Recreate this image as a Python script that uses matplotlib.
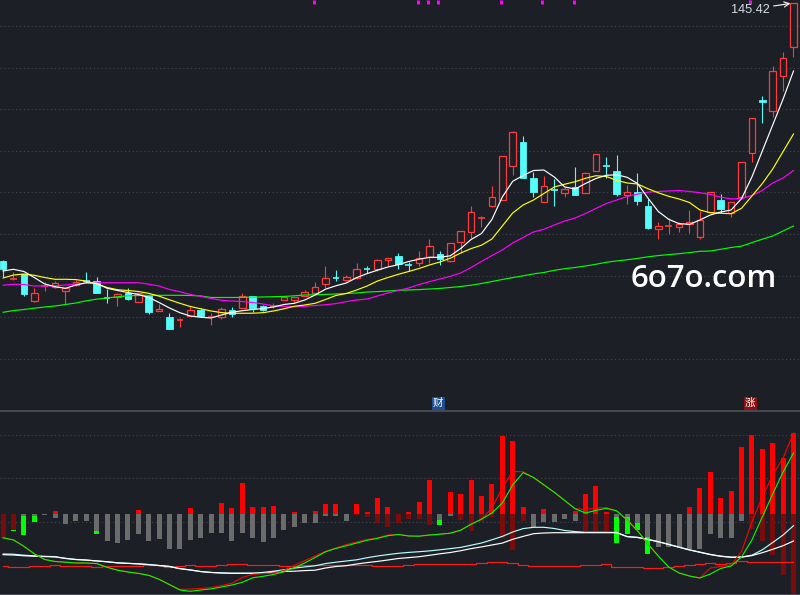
import matplotlib
matplotlib.use("Agg")
import matplotlib.pyplot as plt
from matplotlib.patches import Rectangle
import numpy as np

# ---------------- price panel data (candle index 0..76) ----------------
OPEN = [83.51, 79.06, 80.31, 73.97, 77.33, 77.19, 76.18, 77.74, 78.82, 78.70,
        74.78, 74.86, 75.82, 73.77, 75.10, 71.37, 70.05, 69.28, 70.36, 71.73,
        69.93, 69.98, 71.73, 72.21, 75.10, 72.69, 72.62, 74.06, 74.06, 75.10,
        75.89, 77.98, 79.42, 79.06, 79.54, 81.66, 81.47, 83.63, 84.78, 82.67,
        82.96, 84.40, 85.19, 83.44, 88.00, 90.36, 93.80, 96.80, 98.24, 106.23,
        112.12, 103.39, 97.62, 100.65, 99.93, 101.23, 99.93, 105.14, 106.47, 105.14,
        99.30, 100.02, 96.73, 91.27, 91.87, 91.61, 92.33, 89.21, 95.22, 98.17,
        94.98, 98.97, 109.40, 122.21, 119.57, 128.05, 134.88]
HIGH = [83.75, 80.94, 80.38, 76.95, 78.58, 78.70, 77.02, 78.94, 80.87, 79.66,
        76.78, 75.82, 77.02, 76.06, 75.22, 73.17, 70.94, 69.81, 72.45, 72.09,
        70.94, 72.52, 72.45, 75.82, 75.10, 72.93, 73.41, 75.10, 74.86, 76.54,
        78.39, 82.31, 81.35, 80.14, 82.96, 82.31, 83.92, 84.23, 85.50, 83.34,
        85.99, 88.80, 85.91, 87.76, 90.72, 96.73, 94.33, 101.54, 108.75, 114.76,
        113.56, 104.98, 103.94, 103.15, 101.37, 106.18, 104.98, 109.16, 108.51, 108.99,
        101.78, 104.59, 98.34, 92.96, 93.77, 92.96, 95.77, 95.60, 100.17, 99.54,
        97.69, 107.24, 117.81, 123.17, 130.38, 133.82, 145.42]
LOW = [79.66, 79.06, 75.17, 73.73, 76.30, 77.02, 73.17, 77.50, 78.46, 75.89,
       73.49, 72.69, 74.13, 73.77, 70.65, 71.37, 67.16, 67.57, 70.36, 69.98,
       68.12, 69.49, 69.93, 72.09, 71.13, 71.49, 72.14, 74.06, 73.65, 75.10,
       75.58, 77.02, 78.70, 78.70, 79.30, 80.62, 81.18, 82.19, 81.66, 81.18,
       82.38, 82.96, 82.48, 83.27, 85.50, 89.04, 91.61, 96.42, 98.24, 104.30,
       103.53, 98.97, 97.62, 96.85, 98.97, 99.45, 99.93, 105.14, 103.39, 99.13,
       97.28, 97.04, 91.13, 88.73, 89.93, 90.41, 90.17, 88.87, 95.22, 94.98,
       94.01, 98.97, 107.38, 116.75, 118.20, 124.45, 132.48]
CLOSE = [81.47, 79.35, 75.65, 75.82, 77.43, 78.15, 77.02, 78.46, 78.70, 75.89,
         74.66, 75.58, 74.45, 75.74, 71.32, 71.90, 67.16, 69.37, 71.61, 70.29,
         70.05, 71.90, 70.70, 74.98, 72.09, 71.61, 72.74, 74.86, 74.86, 76.06,
         77.26, 79.35, 79.30, 79.73, 81.51, 81.54, 83.75, 84.23, 82.72, 82.55,
         84.16, 87.12, 84.06, 87.76, 90.65, 95.22, 93.92, 98.89, 108.75, 114.52,
         103.53, 100.17, 101.54, 100.50, 100.75, 99.45, 104.66, 109.16, 106.35, 99.69,
         100.10, 98.00, 91.44, 91.92, 91.97, 92.33, 92.96, 93.37, 100.17, 96.01,
         97.69, 107.24, 117.81, 121.66, 129.18, 132.24, 145.42]

MA5 = [81.11, 81.51, 80.99, 79.54, 77.98, 77.33, 76.95, 77.74, 78.29, 78.15,
       76.95, 76.42, 75.94, 75.46, 74.74, 73.53, 72.21, 71.08, 70.29, 69.98,
       69.81, 70.53, 71.18, 71.56, 71.85, 72.09, 72.45, 73.05, 73.34, 74.13,
       75.34, 76.73, 77.55, 78.22, 79.52, 80.48, 81.30, 82.07, 82.62, 83.39,
       83.94, 84.40, 84.40, 84.76, 86.51, 88.68, 90.12, 93.49, 98.89, 102.67,
       104.06, 105.26, 105.38, 103.70, 101.30, 100.82, 102.14, 103.34, 104.11, 104.23,
       103.63, 102.14, 98.65, 95.41, 93.53, 92.48, 92.33, 93.37, 94.57, 95.29,
       95.77, 98.49, 103.70, 109.95, 116.20, 122.45, 129.18]
MA10 = [79.42, 80.14, 80.38, 80.07, 79.54, 79.11, 79.11, 79.04, 78.65, 77.98,
        77.14, 76.61, 76.42, 76.18, 75.74, 75.05, 74.18, 73.34, 72.57, 72.02,
        71.49, 71.11, 70.94, 70.94, 70.96, 71.08, 71.49, 72.02, 72.62, 72.93,
        73.34, 74.25, 75.22, 75.70, 76.54, 77.50, 78.70, 79.54, 80.31, 80.99,
        81.71, 82.55, 83.27, 84.18, 85.43, 86.49, 87.31, 88.80, 91.92, 95.05,
        96.97, 98.17, 99.74, 101.30, 101.97, 102.57, 103.39, 104.01, 103.82, 102.91,
        102.26, 102.02, 100.89, 99.90, 99.06, 98.41, 97.57, 95.77, 95.12, 94.98,
        94.88, 96.18, 99.13, 102.12, 105.62, 109.83, 114.04]
MA20 = [77.69, 77.91, 77.86, 77.50, 77.50, 77.55, 77.74, 77.98, 78.15, 78.27,
        78.29, 78.29, 78.29, 78.29, 77.93, 77.50, 76.66, 76.13, 75.46, 75.02,
        74.50, 74.06, 73.89, 73.77, 73.53, 73.17, 72.74, 72.62, 72.52, 72.62,
        72.81, 72.98, 73.27, 73.75, 74.13, 74.37, 75.10, 75.82, 76.42, 77.02,
        77.86, 78.53, 79.18, 79.83, 80.62, 81.95, 83.39, 84.83, 86.15, 87.84,
        89.16, 90.48, 91.13, 92.16, 93.12, 93.85, 94.93, 96.13, 97.33, 98.17,
        99.01, 99.57, 100.05, 100.22, 100.34, 100.46, 100.22, 99.93, 99.50, 98.85,
        98.46, 98.53, 99.25, 100.46, 102.26, 103.46, 105.26]
MA60 = [71.18, 71.59, 71.85, 72.16, 72.45, 72.69, 73.05, 73.41, 73.94, 74.33,
        74.62, 74.90, 75.14, 75.22, 75.26, 75.26, 75.26, 75.26, 75.22, 75.10,
        74.74, 74.74, 74.74, 74.76, 74.81, 74.86, 74.93, 74.98, 75.14, 75.34,
        75.38, 75.48, 75.58, 75.70, 75.82, 76.06, 76.15, 76.30, 76.47, 76.54,
        76.63, 76.78, 76.92, 77.14, 77.38, 77.69, 78.10, 78.58, 79.06, 79.52,
        79.95, 80.41, 80.75, 81.27, 81.66, 81.95, 82.31, 82.72, 83.20, 83.53,
        83.80, 84.13, 84.52, 84.81, 85.05, 85.26, 85.53, 85.84, 85.91, 86.32,
        86.75, 87.07, 87.93, 88.75, 89.52, 90.72, 91.92]

PRICE_GRID = [140, 130, 120, 110, 100, 90, 80, 70, 60]
SIGNAL_IDX = [30, 40, 41, 42, 48, 52, 55, 72]
BADGES = [(42, "财", "#1b4f90"), (72, "涨", "#8e1111")]

# ---------------- indicator panel data ----------------
BAR_RED = [0, 0, 0, 0, 0, 0.6, 0, 0, 0, 0,
           0, 0, 0, 0.8, 0, 0, 0, 0, 1.2, 0,
           0, 2.2, 1.2, 6.2, 1.4, 1.4, 1.6, 0, 0.4, 0,
           0.6, 2.0, 2.0, 0, 2.0, 0.4, 3.2, 1.4, 0, 0.4,
           2.4, 6.8, 0, 4.4, 4.0, 6.8, 3.6, 6.0, 15.6, 14.6,
           1.4, 0, 1.0, 0, 0, 0.6, 4.0, 5.6, 0.4, 0,
           0, 0, 0, 0, 0, 0, 1.5, 5.3, 8.5, 3.3,
           4.7, 13.5, 15.8, 13.0, 14.3, 11.3, 16.3]
BAR_GRAY = [0, 0, -0.4, -0.4, -0.2, -0.8, -2.0, -1.4, -1.4, -3.4,
            -5.4, -5.8, -5.2, -4.0, -5.4, -5.0, -7.0, -7.0, -5.2, -4.8,
            -3.8, -3.8, -5.4, -3.8, -4.8, -5.6, -4.8, -3.2, -2.6, -1.8,
            -1.8, -0.4, -0.4, -1.4, 0, 0, 0, 0, 0, 0,
            0, 0, -1.2, -0.4, 0, 0, 0, 0, 0, 0,
            0, -2.6, -1.6, -1.6, -1.0, -1.4, 0, 0, 0, -0.6,
            -0.6, -1.8, -4.5, -6.5, -6.5, -6.5, -6.9, -7.0, -4.0, -4.7,
            -4.7, -1.4, 0, 0, 0, 0, 0]
BAR_DARK = [-4.7, -3.1, 0, 0, 0, 0, 0, 0, 0, 0,
            0, 0, 0, 0, 0, 0, 0, 0, 0, 0,
            0, 0, 0, 0, 0, 0, 0, 0, 0, 0,
            0, 0, 0, 0, -0.2, -0.6, -1.8, -2.6, -1.8, -1.0,
            -1.0, -2.2, 0, 0, -1.2, -3.4, -1.6, -0.6, -4.8, -7.2,
            -1.4, 0, 0, 0, 0, 0, -3.4, -3.4, -3.4, 0,
            0, 0, 0, 0, 0, 0, 0, 0, 0, 0,
            0, 0, -2.9, -5.3, -8.1, -12.2, -16.0]
GREEN_LOW = [0, -3.3, -4.2, -1.6, 0, 0, 0, 0, 0, -3.9,
             0, 0, 0, 0, 0, 0, 0, 0, 0, 0,
             0, 0, 0, 0, 0, 0, 0, 0, 0, 0,
             0, 0, 0, 0, 0, 0, 0, 0, 0, 0,
             0, 0, -2.2, 0, 0, 0, 0, 0, 0, 0,
             0, 0, 0, 0, 0, 0, 0, 0, 0, -5.8,
             -4.0, -3.2, -8.0, 0, 0, 0, 0, 0, 0, 0,
             0, 0, 0, 0, 0, 0, 0]

L_GREEN = [-4.76, -5.2, -6.46, -7.96, -9.1, -9.5, -9.64, -9.8, -9.8, -9.92,
           -10.66, -11.24, -11.6, -11.88, -12.26, -13.06, -14.12, -15.2, -15.46, -15.2,
           -14.98, -14.6, -14.2, -13.66, -12.76, -12.46, -12.1, -11.54, -10.74, -9.8,
           -8.7, -7.56, -6.88, -6.36, -5.8, -5.24, -4.88, -4.34, -4.1, -4.4,
           -4.44, -4.2, -4.04, -3.84, -3.24, -2.04, -1.04, 0.2, 2.2, 5.8,
           8.28, 7.3, 5.82, 4.34, 2.7, 1.06, 0.2, 0.72, 1.14, 0.62,
           -1.2, -3.34, -6.0, -8.4, -10.6, -11.8, -12.4, -12.8, -12.0, -10.9,
           -10.4, -8.6, -5.2, -0.6, 4.0, 8.4, 12.2]
L_RED = [-4.76, -5.2, -6.46, -7.96, -9.1, -9.5, -9.64, -9.8, -9.8, -9.92,
         -10.66, -11.24, -11.6, -11.88, -12.26, -13.06, -14.12, -15.1, -15.0, -14.92,
         -14.7, -14.3, -13.86, -12.7, -12.06, -11.92, -11.8, -11.3, -10.26, -9.34,
         -8.4, -7.46, -6.8, -6.12, -5.6, -5.1, -4.76, -4.2, -4.06, -4.4,
         -4.44, -4.2, -4.04, -3.84, -3.24, -2.04, -1.04, 1.2, 5.2, 8.5,
         8.46, 7.3, 5.82, 4.34, 2.7, 1.06, 0.9, 1.2, 1.28, 0.62,
         -1.2, -3.34, -6.0, -8.4, -10.6, -11.8, -12.4, -12.8, -10.8, -10.5,
         -10.2, -7.5, -1.6, 3.4, 7.8, 11.2, 16.2]
L_WHITE = [-8.14, -8.2, -8.36, -8.44, -8.52, -8.58, -8.9, -9.12, -9.22, -9.4,
           -9.56, -9.78, -9.88, -9.98, -10.12, -10.32, -10.5, -10.94, -11.2, -11.52,
           -11.7, -11.8, -11.86, -11.86, -11.86, -11.86, -11.62, -11.5, -11.44, -11.32,
           -11.24, -10.8, -10.5, -10.34, -10.0, -9.72, -9.48, -9.2, -8.9, -8.72,
           -8.54, -8.26, -7.96, -7.7, -7.34, -6.92, -6.58, -6.2, -5.82, -5.06,
           -4.48, -3.94, -3.8, -3.74, -3.74, -3.74, -3.74, -3.74, -3.74, -3.74,
           -4.54, -4.7, -5.1, -5.56, -6.1, -6.66, -7.2, -7.66, -8.12, -8.46,
           -8.66, -8.64, -8.32, -7.74, -7.06, -6.34, -5.4]
L_CYAN = [-8.0, -8.04, -8.24, -8.36, -8.46, -8.54, -8.86, -9.08, -9.2, -9.38,
          -9.54, -9.76, -9.86, -9.96, -10.1, -10.3, -10.48, -10.92, -11.18, -11.5,
          -11.68, -11.78, -11.84, -11.84, -11.84, -11.68, -11.44, -11.16, -10.82, -10.58,
          -10.36, -9.92, -9.64, -9.4, -9.16, -8.74, -8.4, -8.12, -7.86, -7.68,
          -7.54, -7.38, -7.16, -6.92, -6.68, -6.24, -5.8, -5.16, -4.48, -3.6,
          -2.92, -2.66, -2.66, -2.9, -3.3, -3.52, -3.66, -3.66, -3.66, -3.7,
          -4.5, -4.66, -5.06, -5.52, -6.06, -6.62, -7.16, -7.62, -8.08, -8.42,
          -8.62, -8.6, -8.24, -7.16, -5.7, -4.2, -2.34]
L_FLAT = [-10.34, -10.66, -10.66, -10.4, -10.4, -10.26, -10.4, -10.4, -10.4, -10.66,
          -10.4, -10.4, -10.4, -10.4, -10.26, -10.26, -10.54, -10.4, -10.2, -10.4,
          -10.4, -10.2, -10.0, -10.0, -10.2, -10.2, -10.2, -10.4, -10.4, -10.14,
          -10.2, -10.2, -10.2, -10.2, -10.2, -10.26, -10.3, -10.34, -10.34, -10.2,
          -10.06, -10.06, -10.06, -10.06, -10.06, -10.06, -9.8, -9.6, -9.54, -9.86,
          -10.1, -10.34, -10.34, -10.3, -10.3, -10.3, -10.2, -10.1, -10.0, -10.54,
          -10.6, -10.54, -10.86, -10.7, -10.54, -10.34, -10.2, -9.9, -9.8, -10.06,
          -9.86, -9.4, -9.54, -9.54, -9.54, -9.54, -9.54]
IND_GRID = [15.8, 7.14, -1.66]

# ---------------- style ----------------
BG = "#1c1f26"
GRID = "#43464f"
SEP = "#4a4d56"
RED = "#ff3b3b"
CYAN = "#55fcfc"
MARK_OFF = -0.15
LW = 0.85

fig = plt.figure(figsize=(8, 5.95), dpi=100, facecolor=BG)
ax1 = fig.add_axes([0, 184 / 595, 1, 411 / 595])
ax2 = fig.add_axes([0, 0, 1, 184 / 595])
for ax in (ax1, ax2):
    ax.set_facecolor(BG)
    ax.set_xlim(-0.298, 76.625)
    ax.set_xticks([])
    ax.set_yticks([])
    for s in ax.spines.values():
        s.set_visible(False)
ax1.set_ylim(47.45, 146.25)
ax2.set_ylim(-16.2, 20.6)
ax2.spines["top"].set_visible(True)
ax2.spines["top"].set_color(SEP)
ax2.spines["top"].set_linewidth(1.3)
ax2.spines["bottom"].set_visible(True)
ax2.spines["bottom"].set_color(SEP)
ax2.spines["bottom"].set_linewidth(1.3)

for p in PRICE_GRID:
    ax1.axhline(p, color=GRID, lw=0.8, ls=(0, (1, 2.5)), zorder=0)
for g in IND_GRID:
    ax2.axhline(g, color=GRID, lw=0.8, ls=(0, (1, 2.5)), zorder=0)

# ---------------- candles ----------------
x = np.arange(len(CLOSE))
W = 0.64
for i in x:
    o, h, l, c = OPEN[i], HIGH[i], LOW[i], CLOSE[i]
    up = c >= o
    col = RED if up else CYAN
    lo, hi = min(o, c), max(o, c)
    if hi - lo < 0.3:
        ax1.vlines(i, l, h, color=col, lw=0.8, zorder=2)
        ax1.hlines((o + c) / 2, i - W / 2, i + W / 2, color=col, lw=1.2, zorder=2)
    elif up:
        if h > hi:
            ax1.vlines(i, hi, h, color=col, lw=0.8, zorder=2)
        if l < lo:
            ax1.vlines(i, l, lo, color=col, lw=0.8, zorder=2)
        ax1.add_patch(Rectangle((i - W / 2, lo), W, hi - lo, facecolor=BG,
                                edgecolor=col, lw=0.9, zorder=2))
    else:
        ax1.vlines(i, l, h, color=col, lw=0.8, zorder=2)
        ax1.add_patch(Rectangle((i - W / 2, lo), W, hi - lo, facecolor=col,
                                edgecolor=col, lw=0.6, zorder=2))

ax1.plot(x, MA60, color="#00ff00", lw=LW, zorder=3)
ax1.plot(x, MA20, color="#ff00ff", lw=LW, zorder=3)
ax1.plot(x, MA10, color="#ffff00", lw=LW, zorder=3)
ax1.plot(x, MA5, color="#ffffff", lw=LW, zorder=3)

# signal ticks on top edge
xt = ax1.get_xaxis_transform()
ax1.vlines(np.array(SIGNAL_IDX) + MARK_OFF, 0.99, 1.0, transform=xt,
           color="#ff00ff", lw=2.2, zorder=4)

# badges
for idx, ch, fc in BADGES:
    ax1.text(idx + MARK_OFF, 0.0185, ch, transform=xt, ha="center", va="center",
             fontsize=7.5, color="white", family=["Noto Sans CJK SC", "DejaVu Sans"],
             bbox=dict(boxstyle="square,pad=0.15", fc=fc, ec="none"), zorder=5)

# high label
ax1.annotate(f"{HIGH[-1]:.2f}", xy=(x[-1] - 0.3, HIGH[-1]), xytext=(-15, -4.4),
             textcoords="offset points", ha="right", va="center", fontsize=9.2,
             color="#d6dce6", family="Liberation Sans",
             arrowprops=dict(arrowstyle="->", color="white", lw=0.8,
                             shrinkA=1, shrinkB=0), zorder=5)

# watermark
ax1.text(0.788, 0.3024, "6o7o.com", transform=ax1.transAxes, ha="left",
         va="baseline", fontsize=22.5, fontweight="semibold", family="Open Sans",
         color="white", zorder=6)

# ---------------- indicator panel ----------------
BW = 0.48
gray = np.array(BAR_GRAY, dtype=float)
dark = np.array(BAR_DARK, dtype=float)
glow = np.array(GREEN_LOW, dtype=float)
ax2.bar(x, gray, width=BW, color="#6b6b6b", lw=0, zorder=1)
ax2.bar(x, BAR_RED, width=BW, color="#ff0000", lw=0, zorder=1)
ax2.bar(x, dark, width=BW, color="#7a0c0c", lw=0, zorder=1)
base = np.minimum(gray, dark)
m = glow < 0
ax2.bar(x[m], glow[m] - base[m], bottom=base[m], width=BW, color="#00ff00",
        lw=0, zorder=1)

ax2.plot(x, L_FLAT, color="#ff1a1a", lw=LW, drawstyle="steps-mid", zorder=2)
ax2.plot(x, L_CYAN, color="#b4ffff", lw=LW, zorder=3)
ax2.plot(x, L_WHITE, color="#ffffff", lw=LW, zorder=3)
ax2.plot(x, L_RED, color="#ff0000", lw=0.8, zorder=4)
ax2.plot(x, L_GREEN, color="#00ff00", lw=0.8, zorder=4)

fig.savefig("out.png", dpi=100, facecolor=BG)
